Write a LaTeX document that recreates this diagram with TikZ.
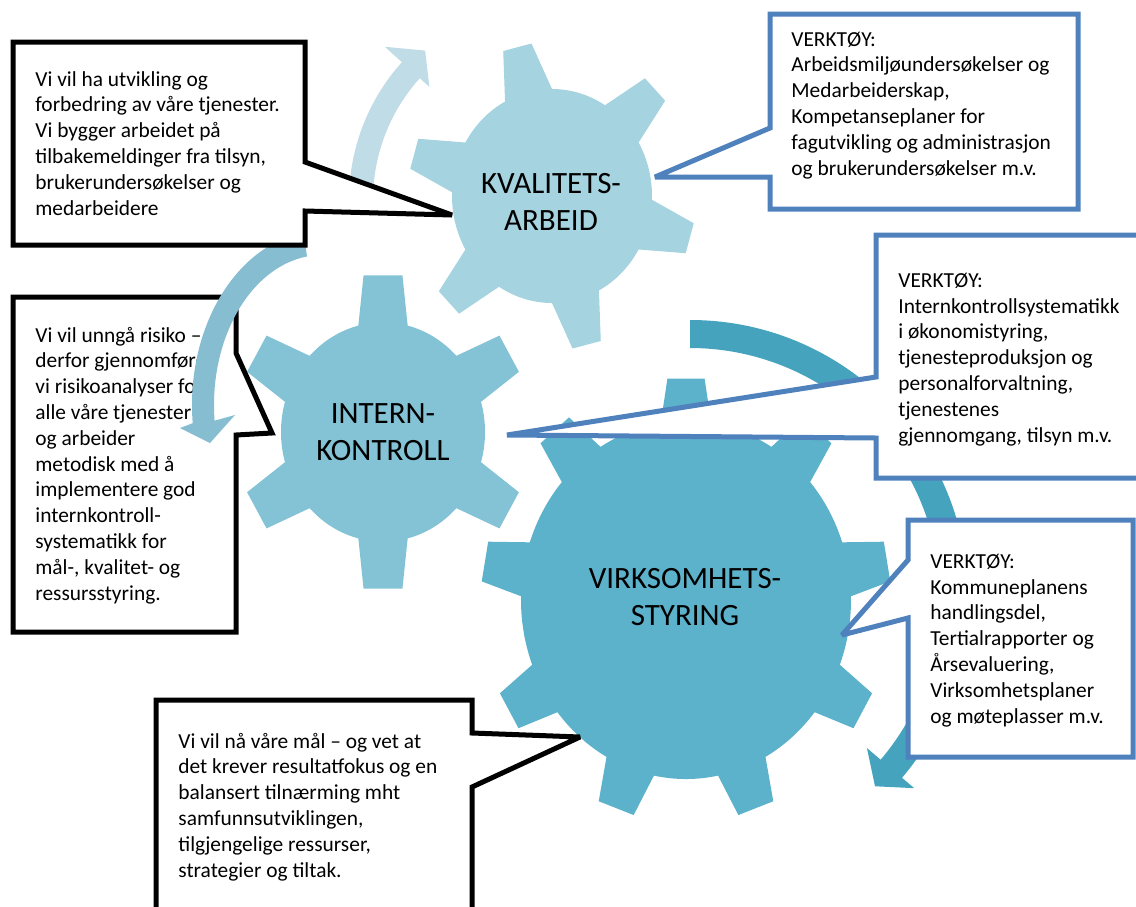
\documentclass[tikz,border=0pt]{standalone}
\usepackage{fontspec}
\setmainfont{Carlito}
\usepackage{tikz}

\definecolor{gearka}{HTML}{A5D3E0}
\definecolor{gearik}{HTML}{83C3D5}
\definecolor{gearvs}{HTML}{5CB2CB}
\definecolor{arrowka}{HTML}{C0DCE6}
\definecolor{arrowik}{HTML}{86BDD1}
\definecolor{arrowvs}{HTML}{45A3BD}
\definecolor{callblue}{HTML}{4F81BD}

\begin{document}
\begin{tikzpicture}[
      x=0.5pt, y=-0.5pt,
      blackcall/.style={
         draw=black,
         line width=2.5pt,
         miter limit=2,
         fill=white
      },
      bluecall/.style={
         draw=callblue,
         line width=2.5pt,
         miter limit=2,
         fill=white
      },
      % notes are placed by the baseline of their last line
      note/.style={
         anchor=base west,
         inner sep=0pt,
         align=left,
         font=\fontsize{10.7}{12.9}\selectfont
      },
      gearlabel/.style={
         anchor=base,
         inner sep=0pt,
         align=center,
         font=\fontsize{15.5}{18.5}\selectfont
      }
    ]
    \useasboundingbox (0,0) rectangle (1136,906);
    \clip (0,0) rectangle (1136,906);

    % gears
    \begin{scope}[shift={(552,196)}, yscale=1.07]
      \fill[gearka] (2:100) \foreach \a in {16,76,...,316} {
        -- (\a-14:100) -- (\a-5.8:144) -- (\a+5.8:144) -- (\a+14:100)
        arc[start angle=\a+14, end angle=\a+46, radius=100]} -- cycle;
    \end{scope}
    \begin{scope}[shift={(383,432)}, yscale=1.075]
      \fill[gearik] (16:102) \foreach \a in {30,90,...,330} {
        -- (\a-14:102) -- (\a-7.6:147) -- (\a+7.6:147) -- (\a+14:102)
        arc[start angle=\a+14, end angle=\a+46, radius=102]} -- cycle;
    \end{scope}
    \begin{scope}[shift={(686,600)}, yscale=1.085]
      \fill[gearvs] (21.2:165) \foreach \a in {30,70,...,350} {
        -- (\a-8.8:165) -- (\a-5.2:205) -- (\a+5.2:205) -- (\a+8.8:165)
        arc[start angle=\a+8.8, end angle=\a+31.2, radius=165]} -- cycle;
    \end{scope}
    \node[gearlabel] (kvalitet) at (551,230) {KVALITETS-\\ARBEID};
    \node[gearlabel] (internkontroll) at (383,460) {INTERN-\\KONTROLL};
    \node[gearlabel] (styring) at (685,625) {VIRKSOMHETS-\\STYRING};

    % rotation arrows
    \begin{scope}[shift={(555,200)}]
      \fill[arrowka] (178:206) arc[start angle=178, end angle=222, radius=206]
        -- (222:229) -- (229:198) -- (222:169) -- (222:182)
        arc[start angle=222, end angle=178, radius=182] -- cycle;
    \end{scope}
    \begin{scope}[shift={(690,598)}]
      \fill[arrowvs] (270:278) arc[start angle=270, end angle=400.3, radius=278]
        -- (400.3:294) -- (405.5:264) -- (400.3:232) -- (400.3:250)
        arc[start angle=400.3, end angle=270, radius=250] -- cycle;
    \end{scope}

    % callouts
    \coordinate (kvaltooltip) at (655,177);
    \draw[bluecall] (770,14) -- (1078,14) -- (1078,209) -- (770,209)
      -- (770,177) -- (kvaltooltip) -- (770,128) -- cycle;
    \node[note] (kvaltools) at (791,175) {VERKTØY:\\Arbeidsmiljøundersøkelser og\\Medarbeiderskap,\\Kompetanseplaner for\\fagutvikling og administrasjon\\og brukerundersøkelser m.v.};

    \coordinate (interntooltip) at (507,435);
    \draw[bluecall] (876,235) -- (1150,235) -- (1150,478) -- (876,478)
      -- (876,438) -- (interntooltip) -- (876,377) -- cycle;
    \node[note] (interntools) at (898,442) {VERKTØY:\\Internkontrollsystematikk\\i økonomistyring,\\tjenesteproduksjon og\\personalforvaltning,\\tjenestenes\\gjennomgang, tilsyn m.v.};

    \coordinate (styrtooltip) at (842,635);
    \draw[bluecall] (908,520) -- (1133,520) -- (1133,757) -- (908,757)
      -- (908,618) -- (styrtooltip) -- (908,560) -- cycle;
    \node[note] (styrtools) at (930,723) {VERKTØY:\\Kommuneplanens\\handlingsdel,\\Tertialrapporter og\\Årsevaluering,\\Virksomhetsplaner\\og møteplasser m.v.};

    \coordinate (styrtip) at (580,737);
    \draw[blackcall] (156,700) -- (472,700) -- (472,733) -- (styrtip)
      -- (472,787) -- (472,920) -- (156,920) -- cycle;
    \node[note] (styrnote) at (178,877) {Vi vil nå våre mål – og vet at\\det krever resultatfokus og en\\balansert tilnærming mht\\samfunnsutviklingen,\\tilgjengelige ressurser,\\strategier og tiltak.};

    \coordinate (interntip) at (272,433);
    \draw[blackcall] (13,297) -- (236,297) -- (236,353) -- (interntip)
      -- (236,435) -- (236,632) -- (13,632) -- cycle;
    \node[note] (internnote) at (35,600) {Vi vil unngå risiko –\\derfor gjennomfører\\vi risikoanalyser for\\alle våre tjenester\\og arbeider\\metodisk med å\\implementere god\\internkontroll-\\systematikk for\\mål-, kvalitet- og\\ressursstyring.};

    \begin{scope}[shift={(322,405)}]
      \fill[arrowik] (262:130 and 174)
        arc[start angle=262, end angle=174, x radius=130, y radius=174]
        -- (-142,23) -- (-112,38) -- (-87,10) -- (174:108 and 150)
        arc[start angle=174, end angle=262, x radius=108, y radius=150] -- cycle;
    \end{scope}

    \coordinate (kvaltip) at (452,215);
    \draw[blackcall] (13,42) -- (305,42) -- (305,162) -- (kvaltip)
      -- (305,211) -- (305,245) -- (13,245) -- cycle;
    \node[note] (kvalnote) at (35,215) {Vi vil ha utvikling og\\forbedring av våre tjenester.\\Vi bygger arbeidet på\\tilbakemeldinger fra tilsyn,\\brukerundersøkelser og\\medarbeidere};
\end{tikzpicture}
\end{document}
